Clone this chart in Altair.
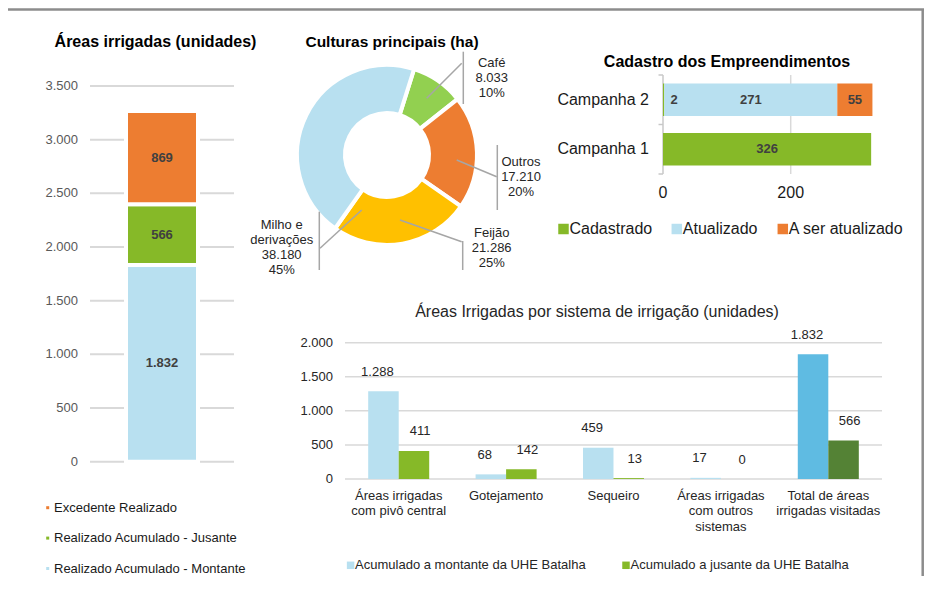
import math
import pandas as pd
import altair as alt


def fmt(n):
    return f"{n:,}".replace(",", ".")


# ===================== DATA =====================
# Panel 1 - Áreas irrigadas (unidades)
p1_title = "Áreas irrigadas (unidades)"
p1_series = ["Realizado Acumulado - Montante", "Realizado Acumulado - Jusante", "Excedente Realizado"]
p1_values = [1832, 566, 869]
p1_ticks = [0, 500, 1000, 1500, 2000, 2500, 3000, 3500]

# Panel 2 - Culturas principais (ha)
p2_title = "Culturas principais (ha)"
p2_names = ["Café", "Outros", "Feijão", "Milho e derivações"]
p2_name_lines = [["Café"], ["Outros"], ["Feijão"], ["Milho e", "derivações"]]
p2_values = [8033, 17210, 21286, 38180]
p2_pct = ["10%", "20%", "25%", "45%"]

# Panel 3 - Cadastro dos Empreendimentos
p3_title = "Cadastro dos Empreendimentos"
p3_campanhas = ["Campanha 2", "Campanha 1"]
p3_series = ["Cadastrado", "Atualizado", "A ser atualizado"]
p3_campanha2 = [2, 271, 55]
p3_campanha1 = [326, 0, 0]
p3_ticks = [0, 200]

# Panel 4 - Áreas Irrigadas por sistema de irrigação (unidades)
p4_title = "Áreas Irrigadas por sistema de irrigação (unidades)"
p4_categories = ["Áreas irrigadas com pivô central", "Gotejamento", "Sequeiro",
                 "Áreas irrigadas com outros sistemas", "Total de áreas irrigadas visitadas"]
p4_cat_lines = [["Áreas irrigadas", "com pivô central"], ["Gotejamento"], ["Sequeiro"],
                ["Áreas irrigadas", "com outros", "sistemas"], ["Total de áreas", "irrigadas visitadas"]]
p4_series = ["Acumulado a montante da UHE Batalha", "Acumulado a jusante da UHE Batalha"]
p4_montante = [1288, 68, 459, 17, 1832]
p4_jusante = [411, 142, 13, 0, 566]
p4_ticks = [0, 500, 1000, 1500, 2000]

# ===================== STYLE / LAYOUT =====================
FONT = "Liberation Sans"
BLUE = "#b8e0f0"
GREEN = "#86b928"
ORANGE = "#ed7d31"
p1_colors = [BLUE, GREEN, ORANGE]
p2_colors = ["#92d050", ORANGE, "#ffc000", BLUE]
p3_colors = [GREEN, BLUE, ORANGE]
p4_keys = ["m", "j", "mt", "jt"]
p4_colors = [BLUE, GREEN, "#5fbbe2", "#548235"]
GRID = "#d9d9d9"
TXT = "#262626"
LBL = "#404040"

M = 8
W, H = 916, 568


def P(v):
    return v - M


# page-pixel scales for annotation layers
PX = alt.Scale(domain=[0, 932], range=[-M, 932 - M], nice=False, zero=False)
PY = alt.Scale(domain=[0, 589], range=[-M, 589 - M], nice=False, zero=False)

one = pd.DataFrame({"a": [0]})
layers = []


def title_layer(text, x, y, size, weight="bold", color="#000000"):
    return alt.Chart(pd.DataFrame({"t": [text]})).mark_text(
        font=FONT, fontSize=size, fontWeight=weight, color=color, align="center", baseline="middle"
    ).encode(text="t:N", x=alt.value(P(x)), y=alt.value(P(y)))


# ---------- frame ----------
layers.append(alt.Chart(one).mark_rule(color="#8c8c8c", strokeWidth=2.5).encode(
    x=alt.value(0), x2=alt.value(W), y=alt.value(1.5)))
layers.append(alt.Chart(one).mark_rule(color="#8c8c8c", strokeWidth=2.5).encode(
    x=alt.value(W - 1.3), y=alt.value(1.5), y2=alt.value(H)))

# ---------- panel 1 ----------
df1 = pd.DataFrame({"serie": p1_series, "val": p1_values})
df1["top"] = df1["val"].cumsum()
df1["bot"] = df1["top"] - df1["val"]
df1["mid"] = (df1["top"] + df1["bot"]) / 2
df1["lbl"] = df1["val"].map(fmt)
df1["cat"] = p1_title
C1 = alt.Scale(domain=p1_series, range=p1_colors)
Y1 = alt.Scale(domain=[0, 3500], range=[P(461.7), P(86)], nice=False, zero=False)
X1 = alt.Scale(domain=[p1_title], range=[P(126), P(198)], paddingInner=0, paddingOuter=0)
t1 = pd.DataFrame({"v": p1_ticks, "lbl": [fmt(v) for v in p1_ticks]})

layers.append(alt.Chart(t1).mark_rule(color=GRID, strokeWidth=2).encode(
    y=alt.Y("v:Q", scale=Y1, axis=None), x=alt.value(P(90)), x2=alt.value(P(234))))
layers.append(alt.Chart(t1).mark_text(font=FONT, fontSize=13, color="#595959", align="right", baseline="middle").encode(
    y=alt.Y("v:Q", scale=Y1, axis=None), x=alt.value(P(78)), text="lbl:N"))
layers.append(alt.Chart(df1).mark_bar(stroke="white", strokeWidth=4).encode(
    x=alt.X("cat:N", scale=X1, axis=None),
    y=alt.Y("bot:Q", scale=Y1, axis=None, stack=None), y2="top:Q",
    color=alt.Color("serie:N", scale=C1, legend=None)))
layers.append(alt.Chart(df1).mark_text(font=FONT, fontSize=13, fontWeight="bold", color=LBL, baseline="middle").encode(
    x=alt.X("cat:N", scale=X1, axis=None), y=alt.Y("mid:Q", scale=Y1, axis=None), text="lbl:N"))
layers.append(title_layer(p1_title, 155.5, 41.7, 16))
leg1 = pd.DataFrame({"serie": p1_series[::-1]})
LY1 = alt.Scale(type="point", domain=p1_series[::-1], range=[P(507.7), P(568.5)], padding=0)
layers.append(alt.Chart(leg1).mark_square(size=9, opacity=1).encode(
    y=alt.Y("serie:N", scale=LY1, axis=None), x=alt.value(P(47.7)),
    color=alt.Color("serie:N", scale=C1, legend=None)))
layers.append(alt.Chart(leg1).mark_text(font=FONT, fontSize=13, color="#1a1a1a", align="left", baseline="middle").encode(
    y=alt.Y("serie:N", scale=LY1, axis=None), x=alt.value(P(54)), text="serie:N"))

# ---------- panel 2 ----------
df2 = pd.DataFrame({"nome": p2_names, "val": p2_values, "ord": list(range(len(p2_names)))})
C2 = alt.Scale(domain=p2_names, range=p2_colors)
start = math.radians(17.5)
T2 = alt.Scale(domain=[0, sum(p2_values)], range=[start, start + 2 * math.pi], nice=False, zero=True)
layers.append(alt.Chart(df2).mark_arc(radius=90, radius2=42, stroke="white", strokeWidth=4).encode(
    theta=alt.Theta("val:Q", stack=True, scale=T2),
    order=alt.Order("ord:Q"),
    color=alt.Color("nome:N", scale=C2, legend=None),
    x=alt.value(P(387)), y=alt.value(P(155))))

# label anchors (page px, centre of first line) and leader lines
p2_label_pos = [(491.7, 63.3), (521, 162), (491.7, 233.3), (281.7, 225)]
p2_leaders = [(426.7, 98.3, 461.7, 63.3), (463.3, 51.7, 463.3, 104),
              (456.7, 160, 496.7, 176.7), (497.3, 145, 497.3, 210),
              (400, 220, 461.7, 241.7), (462.7, 241, 462.7, 270),
              (361.7, 210, 320, 248.3), (319.3, 211.7, 319.3, 270)]
LH2 = 15
rows2 = []
for (lx, ly), nl, v, pc in zip(p2_label_pos, p2_name_lines, p2_values, p2_pct):
    for i, s in enumerate(nl + [fmt(v), pc]):
        rows2.append({"x": lx, "y": ly + i * LH2, "t": s})
lab2 = pd.DataFrame(rows2)
lead2 = pd.DataFrame(p2_leaders, columns=["x", "y", "x2", "y2"])
layers.append(alt.Chart(lead2).mark_rule(color="#a6a6a6", strokeWidth=1.5).encode(
    x=alt.X("x:Q", scale=PX, axis=None), y=alt.Y("y:Q", scale=PY, axis=None), x2="x2:Q", y2="y2:Q"))
layers.append(alt.Chart(lab2).mark_text(font=FONT, fontSize=13, color=TXT, align="center", baseline="middle").encode(
    x=alt.X("x:Q", scale=PX, axis=None), y=alt.Y("y:Q", scale=PY, axis=None), text="t:N"))
layers.append(title_layer(p2_title, 392, 41.7, 15.5))

# ---------- panel 3 ----------
rows3 = []
for camp, vals in [(p3_campanhas[0], p3_campanha2), (p3_campanhas[1], p3_campanha1)]:
    cum = 0
    for s, v in zip(p3_series, vals):
        if v > 0:
            rows3.append({"camp": camp, "serie": s, "x0": cum, "x1": cum + v, "mid": cum + v / 2,
                          "lbl": fmt(v), "small": v < 10})
        cum += v
df3 = pd.DataFrame(rows3)
C3 = alt.Scale(domain=p3_series, range=p3_colors)
X3 = alt.Scale(domain=[0, 200], range=[P(663), P(790.7)], nice=False, zero=False)
Y3 = alt.Scale(domain=p3_campanhas, range=[P(75), P(174)], paddingInner=0.34, paddingOuter=0.17)
t3 = pd.DataFrame({"v": p3_ticks, "lbl": [fmt(v) for v in p3_ticks]})

layers.append(alt.Chart(t3[t3.v > 0]).mark_rule(color=GRID, strokeWidth=1.5).encode(
    x=alt.X("v:Q", scale=X3, axis=None), y=alt.value(P(75)), y2=alt.value(P(174))))
layers.append(alt.Chart(t3[t3.v == 0]).mark_rule(color="#c8c8c8", strokeWidth=1.5).encode(
    x=alt.X("v:Q", scale=X3, axis=None), y=alt.value(P(75)), y2=alt.value(P(174))))
tick3 = pd.DataFrame({"y": [75, 124.5, 174]})
layers.append(alt.Chart(tick3).mark_rule(color="#c8c8c8", strokeWidth=1.5).encode(
    y=alt.Y("y:Q", scale=PY, axis=None), x=alt.value(P(658.5)), x2=alt.value(P(663))))
layers.append(alt.Chart(df3).mark_bar().encode(
    y=alt.Y("camp:N", scale=Y3, axis=None),
    x=alt.X("x0:Q", scale=X3, axis=None, stack=None), x2="x1:Q",
    color=alt.Color("serie:N", scale=C3, legend=None)))
layers.append(alt.Chart(df3[~df3.small]).mark_text(font=FONT, fontSize=13, fontWeight="bold", color=LBL, baseline="middle").encode(
    y=alt.Y("camp:N", scale=Y3, axis=None), x=alt.X("mid:Q", scale=X3, axis=None), text="lbl:N"))
layers.append(alt.Chart(df3[df3.small]).mark_text(font=FONT, fontSize=13, fontWeight="bold", color=LBL, baseline="middle", dx=10.5).encode(
    y=alt.Y("camp:N", scale=Y3, axis=None), x=alt.X("mid:Q", scale=X3, axis=None), text="lbl:N"))
layers.append(alt.Chart(pd.DataFrame({"camp": p3_campanhas})).mark_text(font=FONT, fontSize=16, color="#1a1a1a", align="right", baseline="middle").encode(
    y=alt.Y("camp:N", scale=Y3, axis=None), x=alt.value(P(649)), text="camp:N"))
layers.append(alt.Chart(t3).mark_text(font=FONT, fontSize=16, color="#1a1a1a", align="center", baseline="middle").encode(
    x=alt.X("v:Q", scale=X3, axis=None), y=alt.value(P(193)), text="lbl:N"))
layers.append(title_layer(p3_title, 727, 62, 16))
p3_leg_x = [563.5, 676.8, 782.8]
leg3 = pd.DataFrame({"serie": p3_series, "x": p3_leg_x})
layers.append(alt.Chart(leg3).mark_square(size=110, opacity=1).encode(
    x=alt.X("x:Q", scale=PX, axis=None), y=alt.value(P(229)),
    color=alt.Color("serie:N", scale=C3, legend=None)))
layers.append(alt.Chart(leg3).mark_text(font=FONT, fontSize=16, color="#1a1a1a", align="left", baseline="middle", dx=6).encode(
    x=alt.X("x:Q", scale=PX, axis=None), y=alt.value(P(229)), text="serie:N"))

# ---------- panel 4 ----------
rows4 = []
for i, cat in enumerate(p4_categories):
    total = i == len(p4_categories) - 1
    for s, vals, k in [(p4_series[0], p4_montante, "m"), (p4_series[1], p4_jusante, "j")]:
        rows4.append({"cat": cat, "serie": s, "val": vals[i], "zero": 0,
                      "key": k + ("t" if total else ""), "lbl": fmt(vals[i])})
df4 = pd.DataFrame(rows4)
C4 = alt.Scale(domain=p4_keys, range=p4_colors)
X4 = alt.Scale(domain=p4_categories, range=[P(345), P(882)], paddingInner=0, paddingOuter=0)
XO4 = alt.Scale(domain=p4_series, paddingInner=0, paddingOuter=0.76)
Y4 = alt.Scale(domain=[0, 2000], range=[P(479), P(342.7)], nice=False, zero=False)
t4 = pd.DataFrame({"v": p4_ticks, "lbl": [fmt(v) for v in p4_ticks]})

layers.append(alt.Chart(t4).mark_rule(color=GRID, strokeWidth=1.5).encode(
    y=alt.Y("v:Q", scale=Y4, axis=None), x=alt.value(P(345)), x2=alt.value(P(882))))
layers.append(alt.Chart(t4).mark_text(font=FONT, fontSize=13, color=TXT, align="right", baseline="middle").encode(
    y=alt.Y("v:Q", scale=Y4, axis=None), x=alt.value(P(333)), text="lbl:N"))
layers.append(alt.Chart(df4).mark_bar().encode(
    x=alt.X("cat:N", scale=X4, axis=None, sort=p4_categories),
    xOffset=alt.XOffset("serie:N", scale=XO4, sort=p4_series),
    y=alt.Y("val:Q", scale=Y4, axis=None, stack=None), y2="zero:Q",
    color=alt.Color("key:N", scale=C4, legend=None)))
layers.append(alt.Chart(df4).mark_text(font=FONT, fontSize=13, color=TXT, baseline="middle", dy=-19.5).encode(
    x=alt.X("cat:N", scale=X4, axis=None, sort=p4_categories),
    xOffset=alt.XOffset("serie:N", scale=XO4, sort=p4_series),
    y=alt.Y("val:Q", scale=Y4, axis=None), text="lbl:N"))
rows4l = []
for cat, lines in zip(p4_categories, p4_cat_lines):
    for li, s in enumerate(lines):
        rows4l.append({"cat": cat, "li": li, "t": s})
lab4 = pd.DataFrame(rows4l)
LY4 = alt.Scale(domain=[0, 2], range=[P(495.7), P(526.7)], nice=False, zero=False)
layers.append(alt.Chart(lab4).mark_text(font=FONT, fontSize=13, color=TXT, align="center", baseline="middle").encode(
    x=alt.X("cat:N", scale=X4, axis=None, sort=p4_categories),
    y=alt.Y("li:Q", scale=LY4, axis=None), text="t:N"))
layers.append(title_layer(p4_title, 597, 311.7, 16, weight="normal", color=TXT))
p4_leg_x = [350.6, 626]
leg4 = pd.DataFrame({"serie": p4_series, "key": ["m", "j"], "x": p4_leg_x})
layers.append(alt.Chart(leg4).mark_square(size=56, opacity=1).encode(
    x=alt.X("x:Q", scale=PX, axis=None), y=alt.value(P(565.3)),
    color=alt.Color("key:N", scale=C4, legend=None)))
layers.append(alt.Chart(leg4).mark_text(font=FONT, fontSize=13, color=TXT, align="left", baseline="middle", dx=4.5).encode(
    x=alt.X("x:Q", scale=PX, axis=None), y=alt.value(P(565.3)), text="serie:N"))

chart = alt.layer(*layers).resolve_scale(
    x="independent", y="independent", color="independent", theta="independent", xOffset="independent"
).properties(
    width=W, height=H, padding=0, autosize=alt.AutoSizeParams(type="none")
).configure(font=FONT).configure_view(stroke=None, strokeWidth=0)

chart.save("out.html", embed_options={"renderer": "svg", "actions": False})
